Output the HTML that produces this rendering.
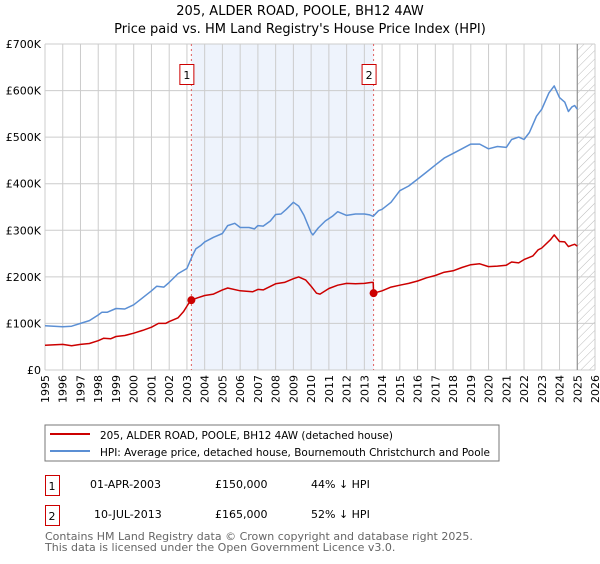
<!DOCTYPE html>
<html><head><meta charset="utf-8"><style>
body{margin:0;background:#fff;font-family:"DejaVu Sans","Liberation Sans",sans-serif;}
svg text{font-family:"DejaVu Sans","Liberation Sans",sans-serif;}
</style></head><body>
<svg id="c" width="600" height="560" xmlns="http://www.w3.org/2000/svg">
<defs><pattern id="hatch" width="6" height="6" patternUnits="userSpaceOnUse" patternTransform="rotate(45)"><line x1="0" y1="0" x2="0" y2="6" stroke="#bbb" stroke-width="1"/></pattern></defs>
<text x="300" y="15" text-anchor="middle" font-size="13" fill="#000">205, ALDER ROAD, POOLE, BH12 4AW</text>
<text x="300" y="33" text-anchor="middle" font-size="13" fill="#000">Price paid vs. HM Land Registry's House Price Index (HPI)</text>
<g id="plot"></g>
<rect x="45" y="425" width="454" height="36" fill="#fff" stroke="#777"/>
<line x1="50" y1="434" x2="90" y2="434" stroke="#cc0000" stroke-width="2"/>
<text x="100" y="439" font-size="11" textLength="293" lengthAdjust="spacingAndGlyphs">205, ALDER ROAD, POOLE, BH12 4AW (detached house)</text>
<line x1="50" y1="451" x2="90" y2="451" stroke="#5b8fd4" stroke-width="2"/>
<text x="100" y="456" font-size="11" textLength="390" lengthAdjust="spacingAndGlyphs">HPI: Average price, detached house, Bournemouth Christchurch and Poole</text>
<rect x="45.5" y="475.5" width="14" height="20" fill="none" stroke="#cc0000"/>
<text x="52" y="490" font-size="11" text-anchor="middle">1</text>
<text x="90" y="488" font-size="11">01-APR-2003</text>
<text x="215" y="488" font-size="11">£150,000</text>
<text x="311" y="488" font-size="11">44% ↓ HPI</text>
<rect x="45.5" y="505.5" width="14" height="20" fill="none" stroke="#cc0000"/>
<text x="52" y="520" font-size="11" text-anchor="middle">2</text>
<text x="94" y="518" font-size="11">10-JUL-2013</text>
<text x="215" y="518" font-size="11">£165,000</text>
<text x="311" y="518" font-size="11">52% ↓ HPI</text>
<text x="45" y="540" font-size="11" fill="#666">Contains HM Land Registry data © Crown copyright and database right 2025.</text>
<text x="45" y="551" font-size="11" fill="#666">This data is licensed under the Open Government Licence v3.0.</text>
</svg>
<script>
const years=[1995,1996,1997,1998,1999,2000,2001,2002,2003,2004,2005,2006,2007,2008,2009,2010,2011,2012,2013,2014,2015,2016,2017,2018,2019,2020,2021,2022,2023,2024,2025,2026];
const yTicks=[0,100,200,300,400,500,600,700];
const yTickLabels=["£0","£100K","£200K","£300K","£400K","£500K","£600K","£700K"];
const hpiT=[1995,1996,1996.5,1997,1997.5,1998,1998.2,1998.5,1999,1999.5,2000,2000.5,2001,2001.3,2001.7,2002,2002.5,2003,2003.3,2003.5,2003.8,2004,2004.5,2005,2005.3,2005.7,2006,2006.5,2006.8,2007,2007.3,2007.7,2008,2008.3,2008.6,2009,2009.3,2009.6,2010,2010.1,2010.4,2010.8,2011.2,2011.5,2012,2012.5,2013,2013.3,2013.5,2013.8,2014,2014.5,2015,2015.5,2016,2016.5,2017,2017.5,2018,2018.5,2019,2019.5,2020,2020.5,2021,2021.3,2021.7,2022,2022.3,2022.7,2023,2023.4,2023.7,2024,2024.3,2024.5,2024.7,2024.85,2025];
const hpiV=[95,93,94,100,106,118,124,124,132,131,140,155,170,180,178,188,207,218,245,260,268,275,285,293,310,315,306,306,303,310,309,320,334,335,345,360,352,332,295,290,305,320,330,340,332,335,335,333,330,342,345,360,385,395,410,425,440,455,465,475,485,485,475,480,478,495,500,495,510,545,560,595,610,585,575,555,565,568,560];
const ppT=[1995,1996,1996.5,1997,1997.5,1998,1998.3,1998.7,1999,1999.5,2000,2000.5,2001,2001.4,2001.8,2002,2002.5,2002.8,2003.1,2003.25,2003.6,2004,2004.5,2005,2005.3,2006,2006.7,2007,2007.3,2008,2008.5,2009,2009.3,2009.7,2010,2010.3,2010.5,2011,2011.5,2012,2012.5,2013,2013.4,2013.5,2013.52,2014,2014.5,2015,2015.5,2016,2016.5,2017,2017.5,2018,2018.5,2019,2019.5,2020,2020.5,2021,2021.3,2021.7,2022,2022.5,2022.8,2023,2023.5,2023.7,2024,2024.3,2024.5,2024.7,2024.85,2025];
const ppV=[53,55,52,55,57,63,68,67,72,74,79,85,92,100,100,104,112,125,143,150,155,160,163,172,176,170,168,173,172,185,188,196,200,193,180,165,163,175,182,186,185,186,188,188,165,170,178,182,186,191,198,203,210,213,220,226,228,222,223,225,232,230,237,245,258,262,280,290,276,275,265,268,270,266];
const saleT=[2003.25,2013.52];
const saleV=[150,165];
const saleLabels=["1","2"];
const X0=45,X1=595,Y0=370,Y1=44,T0=1995,T1=2026,VMAX=700;
const xs=t=>X0+(t-T0)/(T1-T0)*(X1-X0);
const ys=v=>Y0-v/VMAX*(Y0-Y1);
const NS="http://www.w3.org/2000/svg";
const g=document.getElementById('plot');
function mk(tag,attrs){const e=document.createElementNS(NS,tag);for(const k in attrs)e.setAttribute(k,attrs[k]);g.appendChild(e);return e;}
let r=mk('rect',{x:X0,y:Y1,width:X1-X0,height:Y0-Y1,fill:'#fff'});


r=mk('rect',{x:xs(saleT[0]),y:Y1,width:xs(saleT[1])-xs(saleT[0]),height:Y0-Y1,fill:'#eef3fc'});


r=mk('rect',{x:xs(2025.0),y:Y1,width:X1-xs(2025.0),height:Y0-Y1,fill:'url(#hatch)'});


years.forEach(y=>{const l=mk('line',{x1:xs(y),x2:xs(y),y1:Y1,y2:Y0,stroke:'#ccc','stroke-width':1});


const t=mk('text',{x:0,y:0,'font-size':11,'text-anchor':'end',transform:`translate(${xs(y)+4},${Y0+5}) rotate(-90)`});t.textContent=y;

});
yTicks.forEach((v,i)=>{const l=mk('line',{x1:X0,x2:X1,y1:ys(v),y2:ys(v),stroke:'#ccc','stroke-width':1});


const t=mk('text',{x:X0-4,y:ys(v)+4,'font-size':11,'text-anchor':'end'});t.textContent=yTickLabels[i];

});
let l=mk('line',{x1:xs(2025.0),x2:xs(2025.0),y1:Y1,y2:Y0,stroke:'#888','stroke-width':1});


saleT.forEach((t,i)=>{const d=mk('line',{x1:xs(t),x2:xs(t),y1:Y1,y2:Y0,stroke:'#e06060','stroke-width':1,'stroke-dasharray':'2,3'});


const b=mk('rect',{x:xs(t)-11.5,y:64.5,width:14,height:20,fill:'#fff',stroke:'#cc0000'});


const tx=mk('text',{x:xs(t)-4.5,y:79,'font-size':11,'text-anchor':'middle'});tx.textContent=saleLabels[i];});
function path(T,V,col,name){const p=mk('path',{d:T.map((t,i)=>(i?'L':'M')+xs(t).toFixed(1)+','+ys(V[i]).toFixed(1)).join(''),fill:'none',stroke:col,'stroke-width':1.5,'stroke-linejoin':'round'});

}
path(hpiT,hpiV,'#5b8fd4','hpi-line');
path(ppT,ppV,'#cc0000','price-paid-line');
saleT.forEach((t,i)=>{const c=mk('circle',{cx:xs(t),cy:ys(saleV[i]),r:4,fill:'#cc0000'});

});
</script>
</body></html>
